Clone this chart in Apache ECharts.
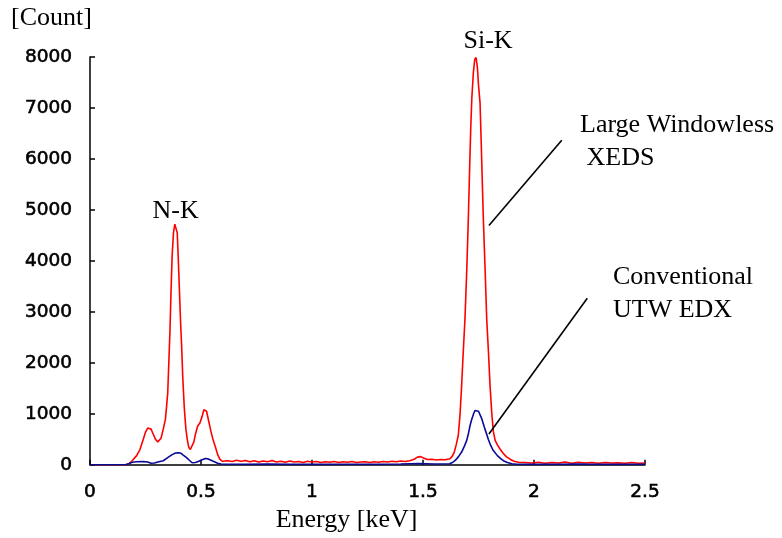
<!DOCTYPE html>
<html>
<head>
<meta charset="utf-8">
<script src="https://cdn.jsdelivr.net/npm/echarts@6/dist/echarts.min.js"></script>
<style>
  html, body { margin: 0; padding: 0; background: #fff; }
  #chart { width: 782px; height: 538px; }
</style>
</head>
<body>
<div id="chart"></div>
<script>
// Spectra: [energy keV, count]
var xedsSpectrum = [
  [0, 0], [0.16, 0], [0.175, 20], [0.19, 80], [0.21, 180], [0.225, 300], [0.24, 500],
  [0.25, 640], [0.26, 720], [0.267, 750], [0.275, 700], [0.285, 600], [0.295, 500],
  [0.305, 450], [0.312, 440], [0.32, 520], [0.33, 700], [0.34, 900], [0.35, 1400],
  [0.355, 2000], [0.36, 2600], [0.365, 3400], [0.37, 4100], [0.376, 4550], [0.382, 4720],
  [0.388, 4700], [0.393, 4550], [0.398, 4000], [0.403, 3400], [0.408, 2800], [0.413, 2300],
  [0.418, 1700], [0.425, 1100], [0.432, 700], [0.438, 500], [0.445, 340], [0.452, 300],
  [0.46, 330], [0.468, 450], [0.475, 600], [0.485, 760], [0.495, 820], [0.505, 950],
  [0.513, 1080], [0.519, 1110], [0.525, 1050], [0.535, 850], [0.545, 650], [0.555, 480],
  [0.565, 350], [0.575, 200], [0.585, 110], [0.595, 70],
  [0.62, 80], [0.64, 65], [0.66, 90], [0.68, 70], [0.7, 85], [0.72, 60], [0.74, 80],
  [0.76, 55], [0.78, 75], [0.8, 60], [0.82, 85], [0.84, 55], [0.86, 70], [0.88, 50],
  [0.9, 75], [0.92, 55], [0.94, 65], [0.96, 45], [0.98, 70], [1.0, 55], [1.02, 65],
  [1.04, 45], [1.06, 60], [1.08, 50], [1.1, 65], [1.12, 45], [1.14, 60], [1.16, 50],
  [1.18, 65], [1.2, 45], [1.22, 55], [1.24, 60], [1.26, 45], [1.28, 60], [1.3, 50],
  [1.32, 65], [1.34, 55], [1.36, 70], [1.38, 60], [1.4, 75], [1.42, 65], [1.44, 80],
  [1.46, 110], [1.475, 150], [1.49, 160], [1.505, 130], [1.52, 105], [1.54, 110],
  [1.56, 95], [1.58, 105], [1.6, 100], [1.61, 110], [1.622, 120], [1.632, 170],
  [1.641, 250], [1.65, 400], [1.659, 580], [1.667, 1000], [1.674, 1550], [1.68, 2100],
  [1.689, 2860], [1.697, 3800], [1.704, 4800], [1.71, 5800], [1.715, 6600], [1.72, 7200],
  [1.727, 7700], [1.733, 7950], [1.739, 7990], [1.745, 7800], [1.75, 7450], [1.757, 7100],
  [1.763, 6200], [1.768, 5400], [1.772, 4800], [1.78, 3800], [1.787, 2860], [1.795, 2200],
  [1.802, 1550], [1.81, 1000], [1.817, 650], [1.825, 480], [1.835, 390], [1.847, 310],
  [1.86, 230], [1.875, 160], [1.892, 110], [1.91, 70], [1.93, 50],
  [1.96, 45], [1.99, 35], [2.02, 50], [2.05, 30], [2.08, 45], [2.11, 35], [2.14, 55],
  [2.17, 30], [2.2, 50], [2.23, 35], [2.26, 45], [2.29, 30], [2.32, 45], [2.35, 35],
  [2.38, 40], [2.41, 30], [2.44, 45], [2.47, 30], [2.5, 35]
];

var utwSpectrum = [
  [0, 0], [0.16, 0], [0.175, 20], [0.19, 50], [0.21, 60], [0.24, 62], [0.26, 55],
  [0.275, 30], [0.282, 15], [0.29, 35], [0.31, 60], [0.33, 80], [0.35, 140], [0.37, 200],
  [0.385, 230], [0.4, 235], [0.41, 225], [0.42, 190], [0.435, 140], [0.45, 80],
  [0.46, 40], [0.466, 20], [0.475, 45], [0.49, 70], [0.505, 100], [0.52, 125],
  [0.53, 120], [0.545, 90], [0.56, 60], [0.575, 30], [0.59, 15],
  [0.7, 10], [0.8, 15], [0.9, 8], [1.0, 12], [1.1, 8], [1.2, 12], [1.3, 10], [1.4, 15],
  [1.48, 25], [1.55, 15], [1.62, 20], [1.635, 50], [1.645, 85], [1.66, 160], [1.674, 250],
  [1.685, 350], [1.697, 480], [1.705, 620], [1.712, 770], [1.72, 900], [1.728, 1000],
  [1.734, 1065], [1.742, 1040], [1.75, 1050], [1.757, 1020], [1.765, 900], [1.772, 800],
  [1.779, 700], [1.787, 600], [1.794, 500], [1.805, 380], [1.815, 290], [1.824, 240],
  [1.835, 180], [1.85, 120], [1.862, 80], [1.88, 45], [1.9, 20], [1.92, 10],
  [2.0, 8], [2.1, 12], [2.2, 15], [2.25, 8], [2.3, 10], [2.4, 8], [2.5, 10]
];

var peakLabels = [
  { name: 'N-K', coord: [0.386, 4700], offset: [0, 0] },
  { name: 'Si-K', coord: [1.739, 7990], offset: [12, -2] }
];

// leader lines from the curves to the annotations, in data units
var xedsLeader = [[1.797, 4695], [2.125, 6366]];
var utwLeader = [[1.797, 606], [2.24, 3268]];

var serif = '"Liberation Serif", "Times New Roman", serif';
var sans = '"DejaVu Sans", sans-serif';

// tick labels in the source are a touch heavier than a regular face
var tickText = {
  fontFamily: sans, fontSize: 18.5, color: '#000', margin: 18,
  textBorderColor: '#000', textBorderWidth: 0.6
};

var chart = echarts.init(document.getElementById('chart'));

chart.setOption({
  animation: false,
  backgroundColor: '#fff',
  grid: { left: 90, right: 137, top: 57, bottom: 72 },
  xAxis: {
    type: 'value',
    min: 0,
    max: 2.5,
    interval: 0.5,
    name: 'Energy [keV]',
    nameLocation: 'middle',
    nameGap: 42,
    nameTextStyle: { fontFamily: serif, fontSize: 26, color: '#000', padding: [0, 42, 0, 0] },
    axisLine: { lineStyle: { color: '#000', width: 1.5 } },
    axisTick: { inside: true, length: 5, lineStyle: { color: '#000', width: 1.5 } },
    axisLabel: tickText,
    splitLine: { show: false }
  },
  yAxis: {
    type: 'value',
    min: 0,
    max: 8000,
    interval: 1000,
    axisLine: { show: true, lineStyle: { color: '#000', width: 1.5 } },
    axisTick: { show: true, inside: true, length: 5, lineStyle: { color: '#000', width: 1.5 } },
    axisLabel: echarts.util.extend({
      formatter: function (v) { return String(v); }
    }, tickText),
    splitLine: { show: false }
  },
  graphic: [
    { type: 'text', left: 11, top: 5,
      style: { text: '[Count]', font: '26px ' + serif, fill: '#000' } },
    { type: 'text', left: 580, top: 109,
      style: { text: 'Large Windowless\n XEDS', font: '26px ' + serif, fill: '#000', lineHeight: 33 } },
    { type: 'text', left: 613, top: 261,
      style: { text: 'Conventional\nUTW EDX', font: '26px ' + serif, fill: '#000', lineHeight: 33 } }
  ],
  series: [
    {
      name: 'Conventional UTW EDX',
      type: 'line',
      data: utwSpectrum,
      showSymbol: false,
      lineStyle: { color: '#0a0a96', width: 1.6 },
      z: 3
    },
    {
      name: 'Large Windowless XEDS',
      type: 'line',
      data: xedsSpectrum,
      showSymbol: false,
      lineStyle: { color: '#ff0000', width: 1.6 },
      z: 2,
      markPoint: {
        symbol: 'circle',
        symbolSize: 0,
        silent: true,
        label: {
          show: true,
          position: 'top',
          distance: 1,
          formatter: '{b}',
          fontFamily: serif,
          fontSize: 26,
          color: '#000'
        },
        data: peakLabels.map(function (p) {
          return { name: p.name, coord: p.coord, label: { offset: p.offset } };
        })
      },
      markLine: {
        silent: true,
        symbol: 'none',
        label: { show: false },
        lineStyle: { color: '#000', width: 1.6, type: 'solid' },
        data: [
          [{ coord: xedsLeader[0] }, { coord: xedsLeader[1] }],
          [{ coord: utwLeader[0] }, { coord: utwLeader[1] }]
        ]
      }
    }
  ]
});
</script>
</body>
</html>
